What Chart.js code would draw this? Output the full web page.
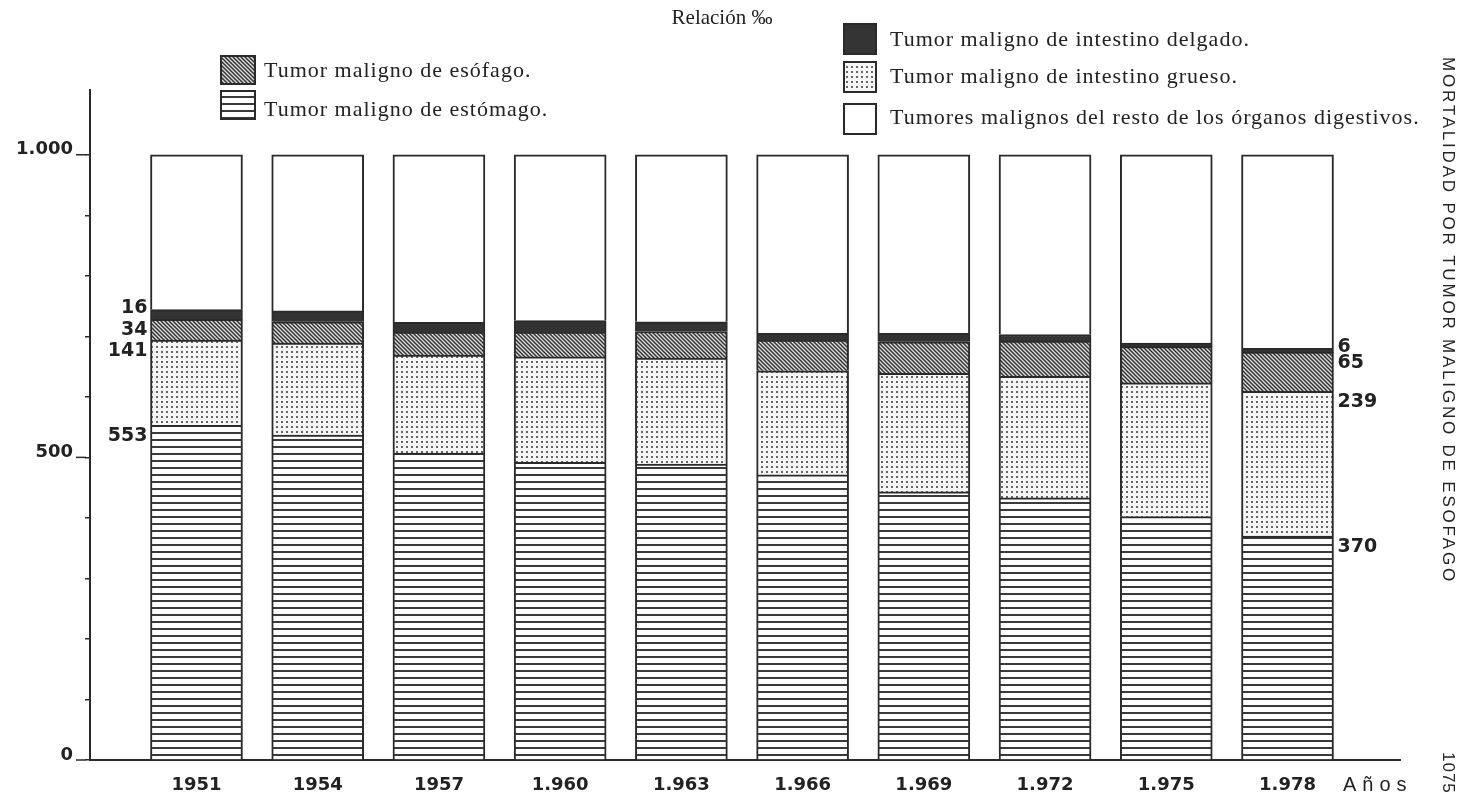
<!DOCTYPE html>
<html>
<head>
<meta charset="utf-8">
<script src="https://cdn.jsdelivr.net/npm/chart.js"></script>
<style>
  body { margin: 0; background: #fff; }
  canvas { display: block; }
</style>
</head>
<body>
<canvas id="grafico" width="1471" height="798"></canvas>
<script>
// datos (relacion por mil)
const years = [1951, 1954, 1957, 1960, 1963, 1966, 1969, 1972, 1975, 1978];
const yearLabels = ['1951', '1954', '1957', '1.960', '1.963', '1.966', '1.969', '1.972', '1.975', '1.978'];

const estomago = [553, 537, 507, 492, 489, 471, 443, 433, 402, 370];
const grueso = [141, 152, 162, 174, 175, 172, 196, 201, 221, 239];
const esofago = [34, 35, 38, 41, 44, 51, 52, 58, 60, 65];
const delgado = [16, 18, 16, 19, 16, 11, 14, 11, 6, 6];
const resto = [256, 258, 277, 274, 276, 295, 295, 297, 311, 320];

const seriesNames = [
    'Tumor maligno de estómago.',
    'Tumor maligno de intestino grueso.',
    'Tumor maligno de esófago.',
    'Tumor maligno de intestino delgado.',
    'Tumores malignos del resto de los órganos digestivos.'
];

const yTickValues = [0, 100, 200, 300, 400, 500, 600, 700, 800, 900, 1000];
const yTickLabels = ['0', '', '', '', '', '500', '', '', '', '', '1.000'];

const INK = '#2a2a2a';

// tramas de relleno
function makePattern(kind) {
    const c = document.createElement('canvas');
    const g = c.getContext('2d');
    if (kind == 'lines') {
        c.width = 8; c.height = 7;
        g.fillStyle = '#fff'; g.fillRect(0, 0, 8, 7);
        g.fillStyle = '#3a3a3a'; g.fillRect(0, 5, 8, 2);
    } else if (kind == 'diag') {
        c.width = 4; c.height = 4;
        g.fillStyle = '#dedede'; g.fillRect(0, 0, 4, 4);
        g.strokeStyle = '#333'; g.lineWidth = 1.5;
        g.beginPath();
        g.moveTo(-1, -1); g.lineTo(5, 5);
        g.moveTo(-1, 3); g.lineTo(1, 5);
        g.moveTo(3, -1); g.lineTo(5, 1);
        g.stroke();
    } else if (kind == 'dots') {
        c.width = 5; c.height = 5;
        g.fillStyle = '#f6f6f6'; g.fillRect(0, 0, 5, 5);
        g.fillStyle = '#666'; g.fillRect(1, 1, 2, 2);
    }
    return document.getElementById('grafico').getContext('2d').createPattern(c, 'repeat');
}

const fills = [makePattern('lines'), makePattern('dots'), makePattern('diag'), '#333', '#fff'];
const seriesData = [estomago, grueso, esofago, delgado, resto];

const datasets = seriesData.map((arr, k) => ({
    label: seriesNames[k],
    data: years.map((yr, i) => ({ x: yr, y: arr[i] })),
    backgroundColor: fills[k],
    borderColor: INK,
    borderWidth: { top: 2, left: 2, right: 2, bottom: 0 },
    borderSkipped: false,
    barThickness: 92
}));

// leyenda, textos sueltos y etiquetas de valores
const decor = {
    id: 'decor',
    afterDraw(chart) {
        const ctx = chart.ctx;
        const ys = chart.scales.y;
        ctx.save();
        ctx.fillStyle = '#222';

        // ticks largos en 0, 500, 1000
        ctx.strokeStyle = INK;
        ctx.lineWidth = 1.5;
        yTickValues.forEach((v, i) => {
            if (yTickLabels[i] === '') return;
            const py = ys.getPixelForValue(v);
            ctx.beginPath();
            ctx.moveTo(ys.right - 14, py);
            ctx.lineTo(ys.right - 4, py);
            ctx.stroke();
        });

        ctx.font = '21px "Liberation Serif"';
        ctx.textBaseline = 'middle';
        ctx.textAlign = 'center';
        ctx.fillText('Relación ‰', 722, 18);

        // leyenda en dos columnas
        const slots = [
            { ds: 2, x: 221, y: 56, w: 34, h: 28, tx: 264, ty: 71 },
            { ds: 0, x: 221, y: 91, w: 34, h: 28, tx: 264, ty: 110 },
            { ds: 3, x: 844, y: 24, w: 32, h: 30, tx: 890, ty: 40 },
            { ds: 1, x: 844, y: 62, w: 32, h: 30, tx: 890, ty: 77 },
            { ds: 4, x: 844, y: 104, w: 32, h: 30, tx: 890, ty: 118 }
        ];
        ctx.textAlign = 'left';
        ctx.font = '22px "Liberation Serif"';
        ctx.letterSpacing = '1px';
        slots.forEach(s => {
            const d = chart.data.datasets[s.ds];
            ctx.fillStyle = d.backgroundColor;
            ctx.fillRect(s.x, s.y, s.w, s.h);
            ctx.strokeStyle = INK;
            ctx.lineWidth = 2;
            ctx.strokeRect(s.x, s.y, s.w, s.h);
            ctx.fillStyle = '#222';
            ctx.fillText(d.label, s.tx, s.ty);
        });

        // etiquetas de valores: primera barra a la izquierda, ultima a la derecha
        ctx.letterSpacing = '0px';
        ctx.font = 'bold 19px "DejaVu Sans"';
        const last = years.length - 1;
        for (let k = 0; k < 4; k++) {
            const meta = chart.getDatasetMeta(k);
            [0, last].forEach(i => {
                const bar = meta.data[i];
                const top = Math.min(bar.y, bar.base);
                const py = k == 3 ? top - 1.5 : top + 11;
                const val = String(seriesData[k][i]);
                if (i == 0) {
                    ctx.textAlign = 'right';
                    ctx.fillText(val, bar.x - bar.width / 2 - 3, py);
                } else {
                    ctx.textAlign = 'left';
                    ctx.fillText(val, bar.x + bar.width / 2 + 4, py);
                }
            });
        }

        // Años
        ctx.textAlign = 'left';
        ctx.font = '20px "Liberation Sans"';
        ctx.letterSpacing = '6px';
        ctx.fillText('Años', 1343, 785);

        // texto vertical
        ctx.font = '17px "Liberation Sans"';
        ctx.letterSpacing = '2.8px';
        ctx.save();
        ctx.translate(1448, 57);
        ctx.rotate(Math.PI / 2);
        ctx.fillText('MORTALIDAD POR TUMOR MALIGNO DE ESOFAGO', 0, 0);
        ctx.restore();

        ctx.letterSpacing = '1px';
        ctx.save();
        ctx.translate(1448, 752);
        ctx.rotate(Math.PI / 2);
        ctx.fillText('1075', 0, 0);
        ctx.restore();

        ctx.restore();
    }
};

new Chart(document.getElementById('grafico'), {
    type: 'bar',
    data: { datasets: datasets },
    plugins: [decor],
    options: {
        responsive: false,
        animation: false,
        devicePixelRatio: 1,
        layout: { padding: { top: 90, right: 71, bottom: 0, left: 0 } },
        plugins: {
            legend: { display: false },
            tooltip: { enabled: false }
        },
        scales: {
            x: {
                type: 'linear',
                stacked: true,
                offset: false,
                min: 1948.365,
                max: 1980.784,
                grid: { display: false, drawTicks: false },
                border: { display: true, color: INK, width: 2 },
                afterBuildTicks: s => { s.ticks = years.map(v => ({ value: v })); },
                afterFit: s => { s.height = 38; },
                ticks: {
                    padding: 15,
                    color: '#222',
                    font: { family: 'DejaVu Sans', weight: 'bold', size: 18 },
                    callback: v => yearLabels[years.indexOf(v)]
                }
            },
            y: {
                stacked: true,
                min: 0,
                max: 1107,
                grid: { drawOnChartArea: false, drawTicks: true, tickLength: 5, color: INK, lineWidth: 1.5 },
                border: { display: true, color: INK, width: 2 },
                afterBuildTicks: s => { s.ticks = yTickValues.map(v => ({ value: v })); },
                afterFit: s => { s.width = 90; },
                ticks: {
                    padding: 12,
                    labelOffset: -5,
                    color: '#222',
                    font: { family: 'DejaVu Sans', weight: 'bold', size: 18 },
                    callback: v => yTickLabels[yTickValues.indexOf(v)]
                }
            }
        }
    }
});
</script>
</body>
</html>
